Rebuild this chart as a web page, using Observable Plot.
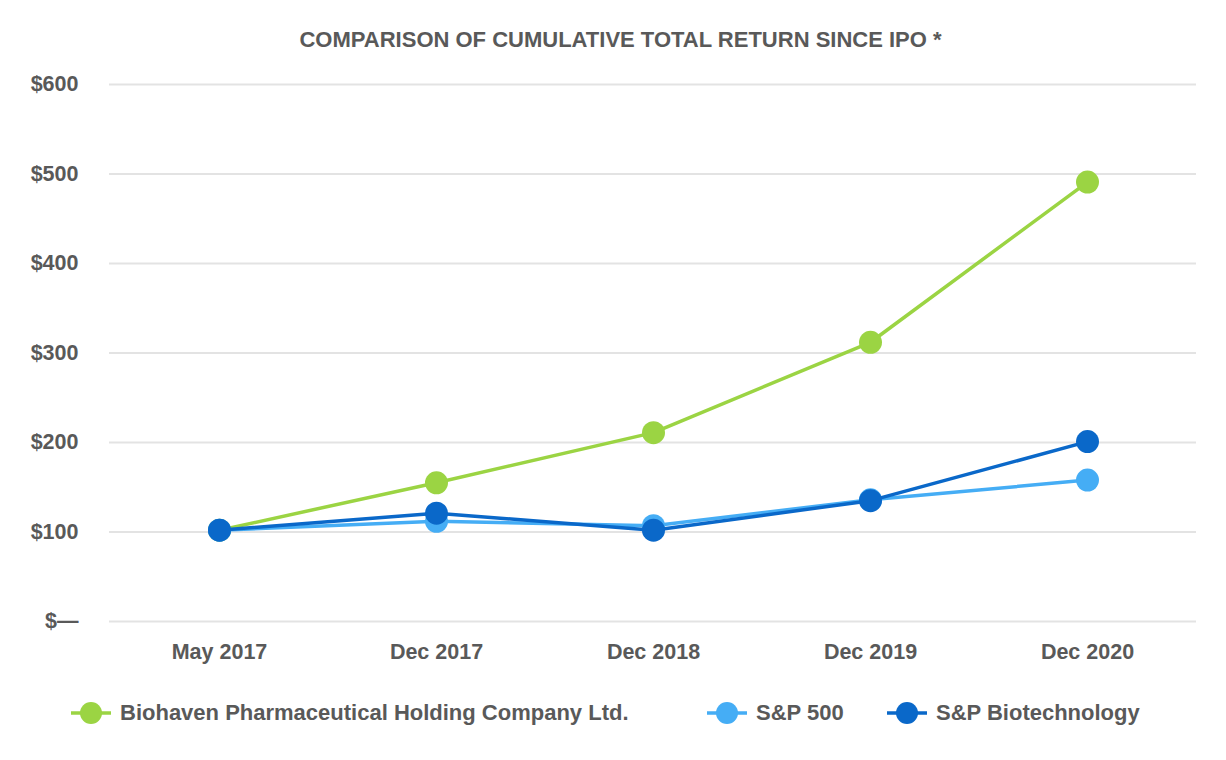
<!DOCTYPE html>
<html>
<head>
<meta charset="utf-8">
<script src="https://cdn.jsdelivr.net/npm/d3@7"></script>
<script src="https://cdn.jsdelivr.net/npm/@observablehq/plot@0.6"></script>
<style>
  html, body { margin: 0; padding: 0; background: #fff; }
  body { width: 1226px; height: 760px; font-family: "Liberation Sans", Arial, sans-serif; color: #595959; }
  #title { height: 60px; box-sizing: border-box; padding-top: 28px; text-align: center; font-size: 22px; font-weight: bold; line-height: 24px; color: #595959; padding-left: 15px; }
  #chart svg { display: block; }
  #legend { position: relative; height: 60px; font-size: 22px; font-weight: bold; color: #595959; }
  .item { position: absolute; top: 20px; display: flex; align-items: center; height: 26px; }
  .item svg { margin-right: 8px; }
</style>
</head>
<body>
<div id="title">COMPARISON OF CUMULATIVE TOTAL RETURN SINCE IPO *</div>
<div id="chart"></div>
<div id="legend"></div>
<script>
const dates = ["May 2017", "Dec 2017", "Dec 2018", "Dec 2019", "Dec 2020"];
const biohaven = [102, 155, 211, 312, 491];
const sp500 = [102, 112, 107, 136, 158];
const spBiotech = [102, 121, 102, 135, 201];
const seriesNames = ["Biohaven Pharmaceutical Holding Company Ltd.", "S&P 500", "S&P Biotechnology"];
const seriesColors = ["#9bd443", "#45adf5", "#0a68c9"];
const yTicks = [0, 100, 200, 300, 400, 500, 600];

const allSeries = [biohaven, sp500, spBiotech];
const rows = [];
allSeries.forEach((vals, s) => vals.forEach((v, i) => rows.push({series: seriesNames[s], date: dates[i], value: v})));

const marks = [
  Plot.ruleY(yTicks, {stroke: "#e3e3e3", strokeWidth: 2})
];
seriesNames.forEach((name, s) => {
  const d = rows.filter(r => r.series === name);
  marks.push(Plot.line(d, {x: "date", y: "value", stroke: seriesColors[s], strokeWidth: 3.5}));
  marks.push(Plot.dot(d, {x: "date", y: "value", fill: seriesColors[s], r: 11.5}));
});
marks.push(Plot.axisY(yTicks, {tickSize: 0, tickPadding: 31, tickFormat: d => d === 0 ? "$\u2014" : "$" + d, fontSize: 21.5, fontWeight: "bold", fill: "#595959"}));
marks.push(Plot.axisX({tickSize: 0, tickPadding: 22, fontSize: 21.5, fontWeight: "bold", fill: "#595959"}));

const chart = Plot.plot({
  width: 1226,
  height: 620,
  marginTop: 24,
  marginBottom: 59,
  marginLeft: 109,
  marginRight: 30,
  style: {fontFamily: "Liberation Sans, Arial, sans-serif", color: "#595959", background: "#fff"},
  x: {type: "point", domain: dates, padding: 0.5, label: null},
  y: {domain: [0, 600], label: null},
  marks
});
document.getElementById("chart").appendChild(chart);

const legend = document.getElementById("legend");
const lefts = [70, 706, 886];
seriesNames.forEach((name, s) => {
  const item = document.createElement("div");
  item.className = "item";
  item.style.left = lefts[s] + "px";
  item.innerHTML = `<svg width="42" height="26"><line x1="1" x2="41" y1="13" y2="13" stroke="${seriesColors[s]}" stroke-width="3.5"/><circle cx="21" cy="13" r="11" fill="${seriesColors[s]}"/></svg><span>${name}</span>`;
  legend.appendChild(item);
});
</script>
</body>
</html>
